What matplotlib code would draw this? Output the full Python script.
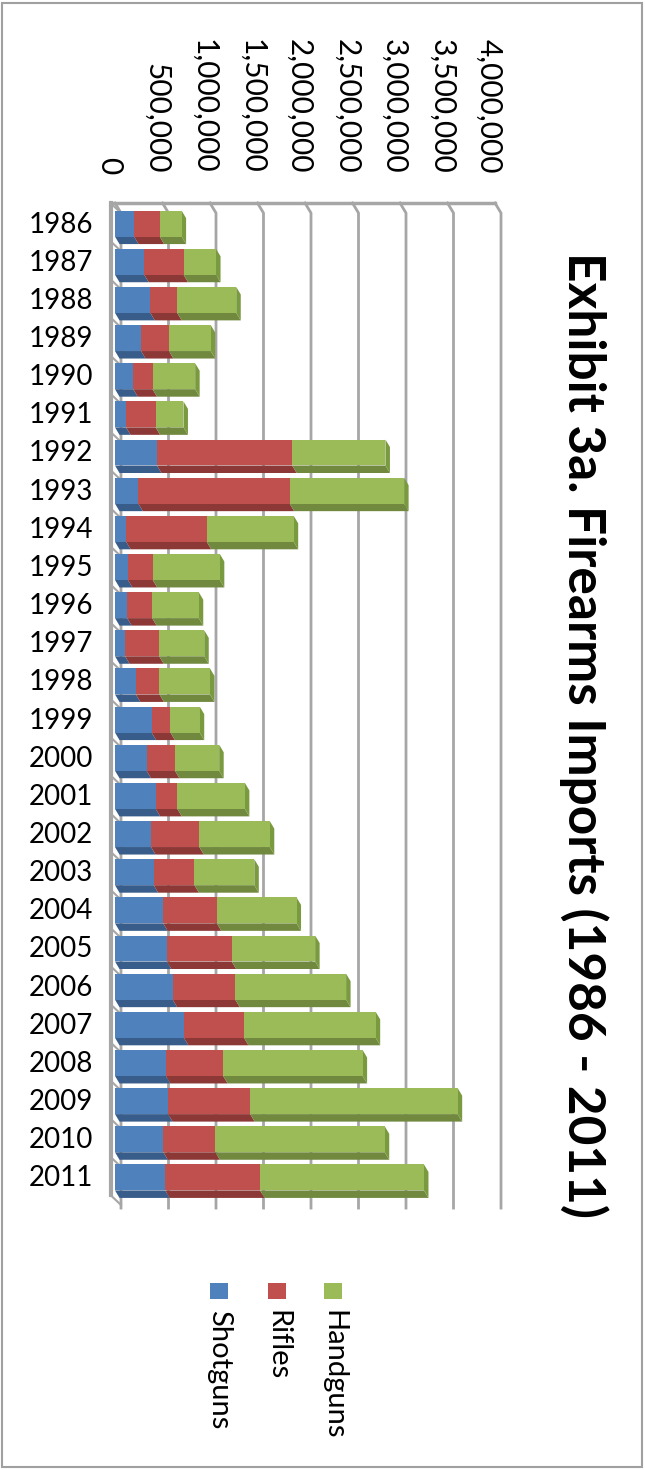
import matplotlib
matplotlib.use('Agg')
import matplotlib.pyplot as plt
from matplotlib.patches import Rectangle, Polygon
from matplotlib.transforms import ScaledTranslation
import numpy as np

# firearms imports by type, 1986-2011
years = list(range(1986, 2012))
shotguns = [201000, 307620, 372008, 274497, 191787, 116141, 441933, 246114, 117866,
            136126, 128456, 106296, 219387, 385556, 331985, 428330, 379755, 407402,
            507050, 546403, 606820, 725752, 535960, 558679, 509287, 529056]
rifles = [269000, 413780, 282640, 293152, 203505, 311285, 1423189, 1592522, 847868,
          261185, 262568, 358937, 248742, 198191, 298894, 227669, 507637, 428837,
          564953, 682100, 659393, 631781, 602364, 864010, 547449, 998072]
handguns = [231000, 342113, 621620, 440132, 448517, 293231, 981588, 1204685, 915168,
            706093, 490554, 474182, 531681, 308052, 465903, 710958, 741845, 630263,
            838856, 878172, 1166309, 1386460, 1468062, 2184417, 1782585, 1725276]
series_names = ['Shotguns', 'Rifles', 'Handguns']
value_ticks = np.arange(0, 4000001, 500000)

colors = ['#4f81bd', '#c0504d', '#9bbb59']
darks = ['#385d8a', '#8c3836', '#71893f']
grid_c = '#a6a6a6'

W, H = 645, 1470
plt.rcParams['font.family'] = ['Lato', 'DejaVu Sans']
fig = plt.figure(figsize=(W / 100, H / 100), dpi=100)


def fx(px):
    return px / W


def fy(py):
    return 1 - py / H


n = len(years)
ax = fig.add_axes([fx(115), fy(1195), 380 / W, 992 / H])
ax.set_xlim(0, 4e6)
ax.set_ylim(n - 0.5, -0.5)
for s in ax.spines.values():
    s.set_visible(False)
ax.patch.set_visible(False)

# 3d box: depth offset of the back wall and of the bars
px_x = 4e6 / 380
px_y = 1 / 38.15
dxw, dyw = 6 * px_x, 10 * px_y
dxb, dyb = 4.5 * px_x, 7.5 * px_y
top, bottom = -0.5, n - 0.5
left_edge = -4.5 * px_x

for v in value_ticks:
    ax.plot([v, v + dxw, v + dxw], [top, top + dyw, bottom + dyw + 0.08],
            color=grid_c, lw=2, clip_on=False, zorder=1)
ax.plot([left_edge, 4e6], [top, top], color=grid_c, lw=2.5, clip_on=False, zorder=1)
ax.plot([left_edge, left_edge], [top, bottom], color=grid_c, lw=3, clip_on=False, zorder=1)
for b in np.arange(top, bottom + 0.1, 1):
    ax.plot([left_edge, dxw], [b, b + dyw], color=grid_c, lw=1.5, clip_on=False, zorder=1)

# stacked bars with underside and end cap
face_lo, face_hi = 0.30, 0.38
series = [shotguns, rifles, handguns]
for i in range(n):
    left = 0
    for k, vals in enumerate(series):
        w = vals[i]
        ax.add_patch(Polygon([(left, i + face_hi), (left + w, i + face_hi),
                              (left + w + dxb, i + face_hi + dyb), (left + dxb, i + face_hi + dyb)],
                             closed=True, fc=darks[k], ec='none', zorder=3, clip_on=False))
        ax.add_patch(Rectangle((left, i - face_lo), w, face_lo + face_hi,
                               fc=colors[k], ec='none', zorder=4, clip_on=False))
        left += w
    ax.add_patch(Polygon([(left, i - face_lo), (left + dxb, i - face_lo + dyb),
                          (left + dxb, i + face_hi + dyb), (left, i + face_hi)],
                         closed=True, fc='#7a9a40', ec='none', zorder=3, clip_on=False))

ax.xaxis.tick_top()
ax.set_xticks(value_ticks)
ax.set_xticklabels([f'{v:,}' for v in value_ticks], rotation=-90, fontsize=21.5)
ax.tick_params(axis='x', length=0, pad=21)
ax.set_yticks(range(n))
ax.set_yticklabels(years, fontsize=20)
ax.tick_params(axis='y', length=0, pad=16)
shift = ScaledTranslation(-6 / 100, 0, fig.dpi_scale_trans)
for lab in ax.get_xticklabels():
    lab.set_transform(lab.get_transform() + shift)

fig.text(fx(584), fy(735), 'Exhibit 3a. Firearms Imports (1986 - 2011)', rotation=-90,
         ha='center', va='center', fontsize=37, fontweight='bold')

# legend
leg_x = [219, 277, 333]
for name, c, x in zip(series_names, colors, leg_x):
    fig.patches.append(Rectangle((fx(x - 9), fy(1299)), 18 / W, 16 / H,
                                 transform=fig.transFigure, fc=c, ec='none'))
    fig.text(fx(x), fy(1310), name, rotation=-90, ha='center', va='top', fontsize=21)

fig.patches.append(Rectangle((fx(2), fy(1467)), 640 / W, 1464 / H, transform=fig.transFigure,
                             fill=False, ec='#a0a0a0', lw=1.5))

fig.savefig('out.png', dpi=100)
